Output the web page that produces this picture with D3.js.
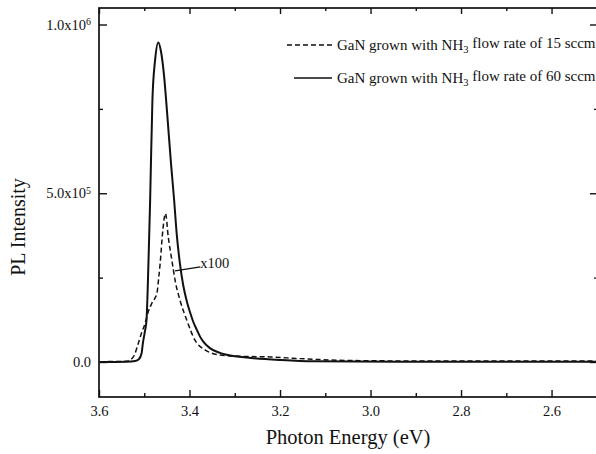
<!DOCTYPE html>
<html>
<head>
<meta charset="utf-8">
<script src="https://cdn.jsdelivr.net/npm/d3@7"></script>
<style>
  body { margin: 0; background: #fff; }
  svg { display: block; font-family: "Liberation Serif", "DejaVu Serif", serif; }
  .axis path, .axis line { stroke: #111; }
  .axis text { fill: #111; font-size: 14.5px; font-family: "Liberation Serif", serif; }
</style>
</head>
<body>
<div class="graph"></div>
<script>
// data: photon energy (eV), PL intensity
const energy60 = [3.598, 3.540, 3.520, 3.512, 3.506, 3.503, 3.498, 3.495, 3.491, 3.487, 3.482,
    3.476, 3.469, 3.463, 3.456, 3.449, 3.441, 3.434, 3.428, 3.421, 3.414, 3.406, 3.399, 3.392,
    3.384, 3.377, 3.370, 3.355, 3.333, 3.299, 3.273, 3.200, 3.127, 2.935, 2.502]
const intensity60 = [0, 1e3, 3e3, 8e3, 25e3, 56e3, 95e3, 124e3, 280e3, 479e3, 775e3,
    895e3, 947e3, 920e3, 845e3, 730e3, 590e3, 480e3, 375e3, 290e3, 228e3, 180e3, 148e3, 120e3,
    96e3, 76e3, 61e3, 41e3, 27e3, 17e3, 13e3, 6e3, 2e3, 1e3, 1e3]

// x100 scaled sample
const energy15 = [3.598, 3.540, 3.529, 3.522, 3.513, 3.506, 3.498, 3.492, 3.483, 3.472, 3.468,
    3.465, 3.459, 3.453, 3.447, 3.439, 3.432, 3.421, 3.406, 3.388, 3.366, 3.333, 3.288, 3.222,
    3.156, 3.090, 3.023, 2.891, 2.714, 2.502]
const intensity15 = [1e3, 2e3, 8e3, 20e3, 56e3, 86e3, 115e3, 145e3, 175e3, 204e3, 250e3,
    290e3, 390e3, 440e3, 371e3, 302e3, 243e3, 183e3, 124e3, 65e3, 36e3, 21e3, 17e3, 15e3,
    10e3, 6e3, 4e3, 3e3, 3e3, 3e3]

const xMajor = [3.6, 3.4, 3.2, 3.0, 2.8, 2.6]
const xMinor = [3.5, 3.3, 3.1, 2.9, 2.7, 2.5]
const yMajor = [0, 5e5, 1e6]
const yMinor = [2.5e5, 7.5e5]
const yLabels = [['0.0', ''], ['5.0x10', '5'], ['1.0x10', '6']]

const seriesNames = ['GaN grown with NH', 'GaN grown with NH']
const seriesTails = [' flow rate of 15 sccm', ' flow rate of 60 sccm']

// x100 note: from curve point to label point (data units)
const noteFrom = [3.432, 2.7e5]
const noteTo = [3.376, 2.82e5]

// config
const w = 596
const h = 454
const frame = {left: 99, right: 598, top: 8, bottom: 397}

const x = d3.scaleLinear().domain([3.6, 2.5]).range([frame.left, 596.8])
const y = d3.scaleLinear().domain([0, 1e6]).range([362, 24.5])

const svg = d3.select('.graph')
    .append('svg')
    .attr('width', w)
    .attr('height', h)
    .attr('viewBox', '0 0 ' + w + ' ' + h)

// frame
svg.append('rect')
    .attr('x', frame.left)
    .attr('y', frame.top)
    .attr('width', frame.right - frame.left)
    .attr('height', frame.bottom - frame.top)
    .attr('fill', 'none')
    .attr('stroke', '#111')
    .attr('stroke-width', 1.7)

function tickAxis(axisFn, scale, ticks, size, pos, isX) {
    const g = svg.append('g')
        .attr('class', 'axis')
        .attr('transform', isX ? 'translate(0,' + pos + ')' : 'translate(' + pos + ',0)')
        .call(axisFn(scale).tickValues(ticks).tickSizeInner(size).tickSizeOuter(0).tickFormat(''))
    g.select('path.domain').remove()
    g.selectAll('line').attr('stroke-width', 1.4)
    return g
}

// bottom / top ticks, pointing inward
tickAxis(d3.axisBottom, x, xMajor, -7, frame.bottom, true)
tickAxis(d3.axisBottom, x, xMinor, -4, frame.bottom, true)
tickAxis(d3.axisTop, x, xMajor, -6, frame.top, true)
tickAxis(d3.axisTop, x, xMinor, -3, frame.top, true)
// left / right
tickAxis(d3.axisLeft, y, yMajor, -8, frame.left, false)
tickAxis(d3.axisLeft, y, yMinor, -4, frame.left, false)
tickAxis(d3.axisRight, y, yMajor, -8, frame.right, false)
tickAxis(d3.axisRight, y, yMinor, -4, frame.right, false)

// x tick labels
const xAxis = svg.append('g')
    .attr('class', 'axis')
    .attr('transform', 'translate(0,' + frame.bottom + ')')
    .call(d3.axisBottom(x).tickValues(xMajor).tickSize(0).tickPadding(9)
        .tickFormat(d3.format('.1f')))
xAxis.select('path.domain').remove()

// y tick labels with superscripts
const yAxis = svg.append('g')
    .attr('class', 'axis')
    .attr('transform', 'translate(' + (frame.left - 8) + ',0)')
    .call(d3.axisLeft(y).tickValues(yMajor).tickSize(0).tickPadding(0).tickFormat(''))
yAxis.select('path.domain').remove()
yAxis.selectAll('.tick text').each(function (d, i) {
    const t = d3.select(this).attr('dy', '0.32em')
    t.append('tspan').text(yLabels[i][0])
    if (yLabels[i][1]) {
        t.append('tspan').attr('dy', '-0.45em').attr('font-size', '10px').text(yLabels[i][1])
    }
})

// axis titles
svg.append('text')
    .attr('x', 348)
    .attr('y', 444)
    .attr('text-anchor', 'middle')
    .attr('font-size', '20.5px')
    .attr('fill', '#111')
    .text('Photon Energy (eV)')

svg.append('text')
    .attr('transform', 'translate(25,227) rotate(-90)')
    .attr('text-anchor', 'middle')
    .attr('font-size', '20px')
    .attr('fill', '#111')
    .text('PL Intensity')

// curves
const line = d3.line()
    .x(d => x(d[0]))
    .y(d => y(d[1]))
    .curve(d3.curveMonotoneX)

svg.append('clipPath').attr('id', 'plot-clip')
    .append('rect')
    .attr('x', frame.left).attr('y', frame.top)
    .attr('width', frame.right - frame.left).attr('height', frame.bottom - frame.top)

const curves = svg.append('g').attr('clip-path', 'url(#plot-clip)')

curves.append('path')
    .datum(d3.zip(energy15, intensity15))
    .attr('d', line)
    .attr('fill', 'none')
    .attr('stroke', '#111')
    .attr('stroke-width', 1.5)
    .attr('stroke-dasharray', '5,3')

curves.append('path')
    .datum(d3.zip(energy60, intensity60))
    .attr('d', line)
    .attr('fill', 'none')
    .attr('stroke', '#111')
    .attr('stroke-width', 2)

// x100 annotation
svg.append('line')
    .attr('x1', x(noteFrom[0])).attr('y1', y(noteFrom[1]))
    .attr('x2', x(noteTo[0])).attr('y2', y(noteTo[1]))
    .attr('stroke', '#111')
    .attr('stroke-width', 1.3)

svg.append('text')
    .attr('x', x(noteTo[0]))
    .attr('y', y(noteTo[1]) + 1)
    .attr('font-size', '14.5px')
    .attr('fill', '#111')
    .text('x100')

// legend
const legend = svg.append('g')
const rows = [
    {y: 45, x1: 287, dash: '5,3', width: 1.5},
    {y: 78, x1: 294, dash: null, width: 1.3}
]
rows.forEach((r, i) => {
    legend.append('line')
        .attr('x1', r.x1).attr('x2', 332)
        .attr('y1', r.y).attr('y2', r.y)
        .attr('stroke', '#111')
        .attr('stroke-width', r.width)
        .attr('stroke-dasharray', r.dash)
    const t = legend.append('text')
        .attr('x', 337)
        .attr('y', r.y + 4.5)
        .attr('font-size', '15px')
        .attr('fill', '#111')
    t.append('tspan').text(seriesNames[i])
    t.append('tspan').attr('dy', '0.3em').attr('font-size', '10.5px').text('3')
    t.append('tspan').attr('dy', '-0.3em').text(seriesTails[i])
})
</script>
</body>
</html>
